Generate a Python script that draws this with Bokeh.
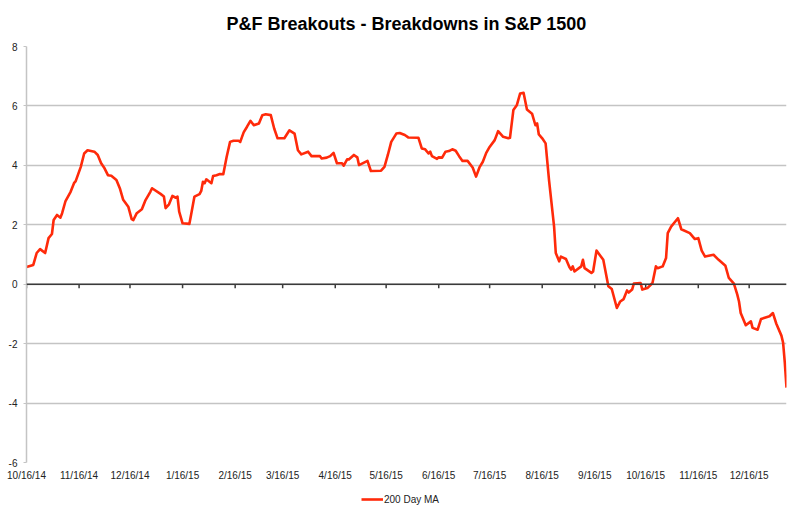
from datetime import datetime
from bokeh.plotting import figure
from bokeh.layouts import column
from bokeh.models import FixedTicker, Span, Legend, LegendItem, Range1d, ColumnDataSource
from bokeh.embed import file_html
from bokeh.resources import INLINE

dates = [
    "2014-10-16", "2014-10-20", "2014-10-22", "2014-10-24", "2014-10-27", "2014-10-29", "2014-10-31",
    "2014-11-01", "2014-11-03", "2014-11-05", "2014-11-06", "2014-11-08", "2014-11-11", "2014-11-13",
    "2014-11-14", "2014-11-17", "2014-11-19", "2014-11-21", "2014-11-25", "2014-11-27", "2014-11-29",
    "2014-12-01", "2014-12-03", "2014-12-05", "2014-12-08", "2014-12-10", "2014-12-12", "2014-12-15",
    "2014-12-17", "2014-12-18", "2014-12-20", "2014-12-23", "2014-12-25", "2014-12-28", "2014-12-29",
    "2015-01-03", "2015-01-05", "2015-01-06", "2015-01-08", "2015-01-10", "2015-01-12", "2015-01-13",
    "2015-01-14", "2015-01-16", "2015-01-20", "2015-01-21", "2015-01-23", "2015-01-26", "2015-01-27",
    "2015-01-28", "2015-01-29", "2015-01-30", "2015-02-02", "2015-02-03", "2015-02-05", "2015-02-07",
    "2015-02-09", "2015-02-11", "2015-02-13", "2015-02-15", "2015-02-18", "2015-02-19", "2015-02-21",
    "2015-02-23", "2015-02-25", "2015-02-27", "2015-03-02", "2015-03-04", "2015-03-06", "2015-03-09",
    "2015-03-11", "2015-03-13", "2015-03-17", "2015-03-20", "2015-03-23", "2015-03-25", "2015-03-27",
    "2015-03-31", "2015-04-02", "2015-04-07", "2015-04-08", "2015-04-11", "2015-04-13", "2015-04-15",
    "2015-04-17", "2015-04-20", "2015-04-21", "2015-04-23", "2015-04-24", "2015-04-27", "2015-04-29",
    "2015-04-30", "2015-05-05", "2015-05-07", "2015-05-13", "2015-05-15", "2015-05-17", "2015-05-19",
    "2015-05-22", "2015-05-24", "2015-05-27", "2015-05-29", "2015-06-04", "2015-06-06", "2015-06-08",
    "2015-06-10", "2015-06-11", "2015-06-12", "2015-06-15", "2015-06-16", "2015-06-18", "2015-06-20",
    "2015-06-22", "2015-06-24", "2015-06-26", "2015-06-28", "2015-06-30", "2015-07-03", "2015-07-06",
    "2015-07-08", "2015-07-10", "2015-07-12", "2015-07-14", "2015-07-16", "2015-07-19", "2015-07-21",
    "2015-07-24", "2015-07-27", "2015-07-28", "2015-07-30", "2015-08-01", "2015-08-03", "2015-08-05",
    "2015-08-07", "2015-08-10", "2015-08-12", "2015-08-13", "2015-08-14", "2015-08-16", "2015-08-18",
    "2015-08-20", "2015-08-23", "2015-08-24", "2015-08-26", "2015-08-27", "2015-08-30", "2015-09-01",
    "2015-09-02", "2015-09-03", "2015-09-04", "2015-09-08", "2015-09-09", "2015-09-10", "2015-09-14",
    "2015-09-15", "2015-09-17", "2015-09-21", "2015-09-24", "2015-09-26", "2015-09-29", "2015-10-01",
    "2015-10-03", "2015-10-05", "2015-10-06", "2015-10-08", "2015-10-09", "2015-10-13", "2015-10-14",
    "2015-10-17", "2015-10-20", "2015-10-22", "2015-10-23", "2015-10-26", "2015-10-28", "2015-10-29",
    "2015-10-31", "2015-11-04", "2015-11-06", "2015-11-11", "2015-11-14", "2015-11-16", "2015-11-18",
    "2015-11-20", "2015-11-25", "2015-11-28", "2015-12-02", "2015-12-04", "2015-12-07", "2015-12-09",
    "2015-12-10", "2015-12-11", "2015-12-14", "2015-12-17", "2015-12-18", "2015-12-21", "2015-12-23",
    "2015-12-28", "2015-12-30", "2016-01-01", "2016-01-04", "2016-01-05", "2016-01-06", "2016-01-07",
]

ma200 = [
    0.58, 0.65, 1.05, 1.18, 1.05, 1.55, 1.69,
    2.16, 2.33, 2.24, 2.39, 2.80, 3.11, 3.40,
    3.47, 3.95, 4.40, 4.51, 4.46, 4.35, 4.07,
    3.90, 3.67, 3.65, 3.51, 3.23, 2.84, 2.61,
    2.19, 2.16, 2.39, 2.52, 2.81, 3.11, 3.23,
    3.04, 2.95, 2.56, 2.69, 2.97, 2.91, 2.95,
    2.44, 2.05, 2.03, 2.33, 2.95, 3.03, 3.14,
    3.45, 3.40, 3.53, 3.40, 3.64, 3.67, 3.71,
    3.70, 4.29, 4.79, 4.83, 4.83, 4.79, 5.11,
    5.30, 5.50, 5.35, 5.41, 5.69, 5.72, 5.69,
    5.24, 4.91, 4.91, 5.18, 5.07, 4.51, 4.37,
    4.46, 4.31, 4.31, 4.23, 4.26, 4.31, 4.42,
    4.07, 4.07, 3.99, 4.20, 4.20, 4.35, 4.27,
    4.01, 4.15, 3.81, 3.82, 3.95, 4.35, 4.79,
    5.07, 5.09, 5.02, 4.94, 4.93, 4.57, 4.54,
    4.40, 4.46, 4.31, 4.22, 4.27, 4.26, 4.46,
    4.48, 4.54, 4.49, 4.31, 4.15, 4.15, 3.93,
    3.62, 3.93, 4.12, 4.42, 4.62, 4.85, 5.15,
    4.96, 4.91, 4.93, 5.86, 6.02, 6.42, 6.44,
    5.88, 5.74, 5.35, 5.41, 5.04, 4.91, 4.74,
    3.51, 1.94, 1.05, 0.77, 0.93, 0.85, 0.58,
    0.49, 0.60, 0.43, 0.60, 0.82, 0.54, 0.38,
    0.43, 1.13, 0.82, -0.07, -0.16, -0.80, -0.58,
    -0.50, -0.21, -0.28, -0.18, 0.02, 0.04, -0.18,
    -0.13, 0.04, 0.60, 0.54, 0.60, 0.88, 1.72,
    1.94, 2.22, 1.85, 1.72, 1.52, 1.55, 1.13,
    0.93, 0.99, 0.82, 0.62, 0.21, 0.02, -0.35,
    -0.58, -0.97, -1.38, -1.25, -1.47, -1.53, -1.17,
    -1.08, -0.97, -1.33, -1.73, -1.97, -2.64, -3.48,
]

tick_labels = ["10/16/14", "11/16/14", "12/16/14", "1/16/15", "2/16/15", "3/16/15", "4/16/15",
               "5/16/15", "6/16/15", "7/16/15", "8/16/15", "9/16/15", "10/16/15", "11/16/15",
               "12/16/15"]
y_ticks = [-6, -4, -2, 0, 2, 4, 6, 8]
series_name = "200 Day MA"

FONT = "Liberation Sans"
LINE_COLOR = "#ff2a0a"

x_dt = [datetime.strptime(d, "%Y-%m-%d") for d in dates]
tick_dt = [datetime.strptime(t, "%m/%d/%y") for t in tick_labels]
epoch = datetime(1970, 1, 1)
tick_ms = [(d - epoch).total_seconds() * 1000.0 for d in tick_dt]

src = ColumnDataSource(dict(x=x_dt, y=ma200))

p = figure(width=792, height=486, x_axis_type="datetime", output_backend="svg",
           toolbar_location=None,
           x_range=Range1d(x_dt[0], x_dt[-1]), y_range=Range1d(min(y_ticks), max(y_ticks)),
           min_border_left=26, min_border_right=6, min_border_top=46, min_border_bottom=24)

p.title.text = "P&F Breakouts - Breakdowns in S&P 1500"
p.title.align = "center"
p.title.vertical_align = "top"
p.title.text_font = FONT
p.title.text_font_size = "18px"
p.title.text_font_style = "bold"
p.title.text_color = "#000000"
p.title.offset = -6
p.title.standoff = 22

p.outline_line_color = None
p.background_fill_color = "white"
p.border_fill_color = "white"

# grid
p.xgrid.grid_line_color = None
p.ygrid.ticker = FixedTicker(ticks=y_ticks)
p.ygrid.grid_line_color = "#c4c4c4"
p.ygrid.grid_line_width = 1.5

# y axis
p.yaxis.ticker = FixedTicker(ticks=y_ticks)
p.yaxis.major_label_overrides = {t: str(t) for t in y_ticks}
p.yaxis.axis_line_color = "#c4c4c4"
p.yaxis.axis_line_width = 1.5
p.yaxis.major_tick_line_color = "#c4c4c4"
p.yaxis.major_tick_out = 3
p.yaxis.major_tick_in = 0
p.yaxis.minor_tick_line_color = None
p.yaxis.major_label_text_font = FONT
p.yaxis.major_label_text_font_size = "10px"
p.yaxis.major_label_text_color = "#222222"
p.yaxis.major_label_standoff = 6

# x axis: labels at bottom, axis line drawn at zero
p.xaxis.ticker = FixedTicker(ticks=tick_ms)
p.xaxis.major_label_overrides = {t: lab for t, lab in zip(tick_ms, tick_labels)}
p.xaxis.axis_line_color = None
p.xaxis.major_tick_line_color = None
p.xaxis.minor_tick_line_color = None
p.xaxis.major_label_text_font = FONT
p.xaxis.major_label_text_font_size = "10px"
p.xaxis.major_label_text_color = "#222222"
p.xaxis.major_label_standoff = 1

zero = Span(location=0, dimension="width", line_color="#3a3a3a", line_width=1.5)
p.add_layout(zero)
p.segment(x0=tick_dt, y0=[0] * len(tick_dt), x1=tick_dt, y1=[-0.14] * len(tick_dt),
          line_color="#3a3a3a", line_width=1.5)

r = p.line("x", "y", source=src, line_color=LINE_COLOR, line_width=2.6, line_join="round")

# legend strip below the chart
pl = figure(width=792, height=22, output_backend="svg", toolbar_location=None,
            x_range=Range1d(0, 1), y_range=Range1d(0, 1),
            min_border=0, outline_line_color=None)
pl.axis.visible = False
pl.grid.visible = False
rl = pl.line("x", "y", source=src, line_color=LINE_COLOR, line_width=2.6, visible=False)
legend = Legend(items=[LegendItem(label=series_name, renderers=[rl])],
                location=(335, 3), orientation="horizontal",
                border_line_alpha=0, background_fill_alpha=0,
                label_text_font=FONT, label_text_font_size="10px", label_text_color="#222222",
                glyph_width=22, glyph_height=12, padding=0, margin=0, spacing=0,
                label_standoff=1, inactive_fill_alpha=0)
pl.add_layout(legend)

layout = column(p, pl, spacing=0)
open("out.html", "w").write(file_html(layout, INLINE))
